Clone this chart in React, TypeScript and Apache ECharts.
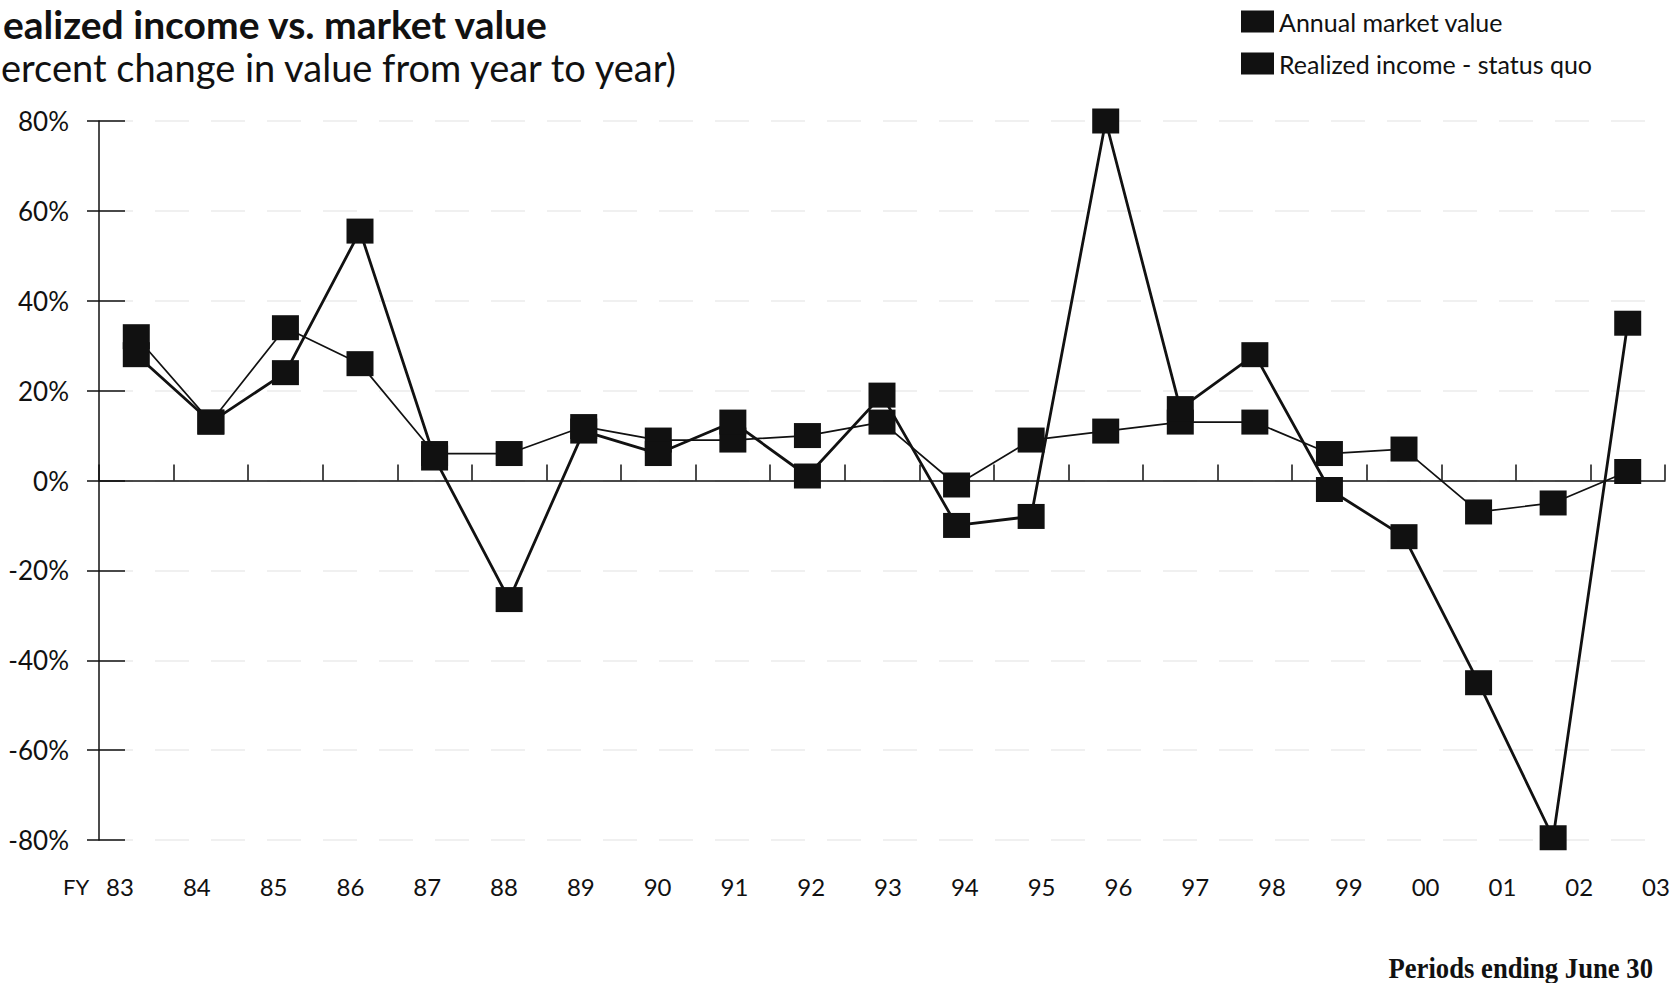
import React, { useEffect, useRef } from "react";
import * as echarts from "echarts";

// ---- data ----
const categories = ["83", "84", "85", "86", "87", "88", "89", "90", "91", "92", "93", "94", "95", "96", "97", "98", "99", "00", "01", "02", "03"];
const annualMarketValue = [28, 13, 24, 55.5, 5, -26.5, 11, 6, 13, 1, 19, -10, -8, 80, 16, 28, -2, -12.5, -45, -79.5, 35];
const realizedIncome = [32, 13, 34, 26, 6, 6, 12, 9, 9, 10, 13, -1, 9, 11, 13, 13, 6, 7, -7, -5, 2];
const yMin = -80;
const yMax = 80;
const yStep = 20;
const seriesNames = ["Annual market value", "Realized income - status quo"];
const titleText = "ealized income vs. market value";
const subtitleText = "ercent change in value from year to year)";
const footnoteText = "Periods ending June 30";

const FONT = "Lato, 'Noto Sans', sans-serif";
const INK = "#111111";

export default function App() {
  const ref = useRef<HTMLDivElement>(null);

  useEffect(() => {
    document.body.style.margin = "0";
    document.body.style.overflow = "hidden";
    if (!ref.current) return;
    const chart = echarts.init(ref.current, null, { renderer: "svg" });

    const option: any = {
      animation: false,
      backgroundColor: "#ffffff",
      textStyle: { fontFamily: FONT, color: INK },
      legend: {
        orient: "vertical",
        left: 1241,
        top: 9,
        padding: 0,
        itemWidth: 33,
        itemHeight: 22,
        itemGap: 17,
        icon: "rect",
        data: seriesNames,
        textStyle: { fontFamily: FONT, fontSize: 25, color: INK },
        itemStyle: { color: INK },
      },
      grid: [
        { left: 99, right: 13, top: 121, bottom: 143, containLabel: false },
        { left: 120, right: 22, top: 121, bottom: 143, containLabel: false },
      ],
      xAxis: [
        {
          type: "category",
          gridIndex: 0,
          data: categories,
          boundaryGap: true,
          axisLine: { show: true, onZero: true, lineStyle: { color: INK, width: 1.5 } },
          axisTick: { show: true, inside: true, length: 16, interval: 0, lineStyle: { color: INK, width: 1.5 } },
          axisLabel: { show: false },
          splitLine: { show: false },
        },
        {
          type: "category",
          gridIndex: 1,
          data: categories,
          boundaryGap: false,
          position: "bottom",
          axisLine: { show: false, onZero: false },
          axisTick: { show: false },
          axisLabel: { show: true, interval: 0, margin: 34, fontSize: 24, fontFamily: FONT, color: INK },
          splitLine: { show: false },
        },
      ],
      yAxis: [
        {
          type: "value",
          gridIndex: 0,
          min: yMin,
          max: yMax,
          interval: yStep,
          axisLine: { show: true, onZero: false, lineStyle: { color: INK, width: 1.5 } },
          axisTick: { show: true, inside: false, length: 12, lineStyle: { color: INK, width: 1.5 } },
          axisLabel: { show: true, margin: 30, fontSize: 26, fontFamily: FONT, color: INK, formatter: "{value}%" },
          splitLine: { show: true, lineStyle: { color: "#ebebeb", width: 1.5, type: [34, 22] } },
        },
        {
          type: "value",
          gridIndex: 0,
          position: "left",
          offset: 0,
          min: yMin,
          max: yMax,
          interval: yStep,
          axisLine: { show: false },
          axisTick: { show: true, inside: true, length: 26, lineStyle: { color: INK, width: 1.5 } },
          axisLabel: { show: false },
          splitLine: { show: false },
        },
        {
          type: "value",
          gridIndex: 1,
          min: yMin,
          max: yMax,
          show: false,
        },
      ],
      series: [
        {
          name: seriesNames[1],
          type: "line",
          xAxisIndex: 0,
          yAxisIndex: 0,
          data: realizedIncome,
          symbol: "rect",
          symbolSize: [27, 25],
          itemStyle: { color: INK },
          lineStyle: { color: INK, width: 1.7 },
          z: 3,
        },
        {
          name: seriesNames[0],
          type: "line",
          xAxisIndex: 0,
          yAxisIndex: 0,
          data: annualMarketValue,
          symbol: "rect",
          symbolSize: [27, 25],
          itemStyle: { color: INK },
          lineStyle: { color: INK, width: 2.8 },
          z: 4,
        },
      ],
      graphic: [
        {
          type: "text",
          x: 3,
          y: 24,
          style: { text: titleText, fontFamily: FONT, fontWeight: "bold", fontSize: 39, fill: INK, align: "left", verticalAlign: "middle" },
        },
        {
          type: "text",
          x: 1,
          y: 67,
          style: { text: subtitleText, fontFamily: FONT, fontSize: 38, fill: INK, align: "left", verticalAlign: "middle" },
        },
        {
          type: "text",
          x: 63,
          y: 886,
          style: { text: "FY", fontFamily: FONT, fontSize: 22, fill: INK, verticalAlign: "middle", align: "left" },
        },
        {
          type: "text",
          x: 1653,
          y: 968,
          scaleX: 0.92,
          style: {
            text: footnoteText,
            fontFamily: "'Liberation Serif', 'Times New Roman', serif",
            fontWeight: "bold",
            fontSize: 29,
            fill: INK,
            align: "right",
            verticalAlign: "middle",
          },
        },
      ],
    };

    chart.setOption(option);
    return () => chart.dispose();
  }, []);

  return <div ref={ref} style={{ width: 1678, height: 983 }} />;
}
